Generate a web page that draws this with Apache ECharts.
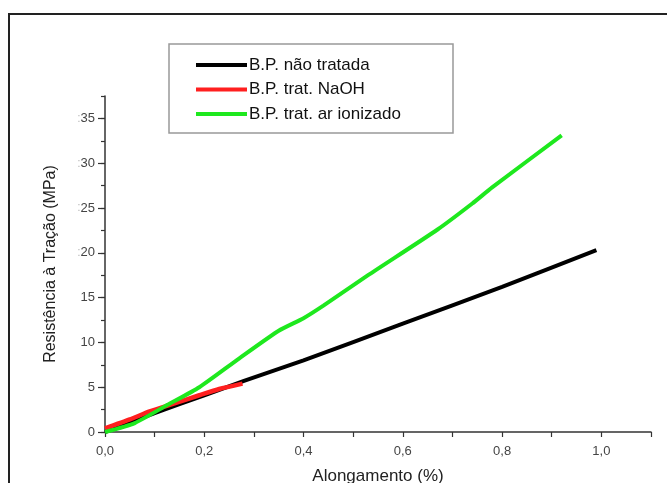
<!DOCTYPE html>
<html>
<head>
<meta charset="utf-8">
<script src="https://cdn.jsdelivr.net/npm/echarts@6/dist/echarts.min.js"></script>
<style>
  html, body { margin: 0; padding: 0; background: #fff; }
  #chart { width: 667px; height: 483px; }
</style>
</head>
<body>
<div id="chart"></div>
<script>
// series names (legend)
var seriesNames = ['B.P. não tratada', 'B.P. trat. NaOH', 'B.P. trat. ar ionizado'];

// [alongamento %, resistência MPa]
var naoTratada = [[0, 0], [0.05, 1.0], [0.1, 2.1], [0.2, 4.1], [0.28, 5.7], [0.4, 8.0], [0.6, 12.1], [0.8, 16.2], [0.99, 20.3]];
var tratNaOH = [[0, 0.4], [0.05, 1.4], [0.09, 2.3], [0.14, 3.2], [0.19, 4.1], [0.23, 4.8], [0.277, 5.4]];
var tratArIonizado = [[0, 0], [0.06, 1.0], [0.125, 3.0], [0.19, 5.0], [0.27, 8.2], [0.35, 11.3], [0.4, 12.7], [0.44, 14.1], [0.53, 17.5], [0.67, 22.6], [0.74, 25.5], [0.78, 27.3], [0.92, 33.1]];

// tick labels
var xLabelValues = [0, 0.2, 0.4, 0.6, 0.8, 1.0];
var yMajorValues = [0, 5, 10, 15, 20, 25, 30, 35];
var yMinorValues = [0, 2.5, 5, 7.5, 10, 12.5, 15, 17.5, 20, 22.5, 25, 27.5, 30, 32.5, 35, 37.5];

var colors = ['#000000', '#ff1f1f', '#1ee81e'];
var font = 'Liberation Sans, Arial, sans-serif';

var myChart = echarts.init(document.getElementById('chart'));

var option = {
  animation: false,
  textStyle: { fontFamily: font },
  grid: { left: 105, right: 16, top: 96, bottom: 51, outerBoundsMode: 'none' },
  graphic: [
    { type: 'rect', shape: { x: 9, y: 14, width: 700, height: 500 }, style: { fill: 'none', stroke: '#222', lineWidth: 2 }, silent: true },
    { type: 'rect', shape: { x: 169, y: 44, width: 284, height: 89 }, style: { fill: '#fff', stroke: '#999', lineWidth: 1.5 }, silent: true, z: -1 }
  ],
  legend: {
    data: seriesNames,
    orient: 'vertical',
    left: 196,
    top: 56,
    padding: 0,
    itemGap: 6.5,
    itemWidth: 51,
    itemHeight: 4,
    icon: 'rect',
    textStyle: { fontFamily: font, fontSize: 17, color: '#111', lineHeight: 18, padding: [0, 0, 0, -3] }
  },
  xAxis: {
    type: 'value',
    min: 0,
    max: 1.1,
    interval: 0.1,
    name: 'Alongamento (%)',
    nameLocation: 'middle',
    nameGap: 36,
    nameTextStyle: { fontFamily: font, fontSize: 17, color: '#222' },
    axisLine: { lineStyle: { color: '#333', width: 1.5 } },
    axisTick: { length: 5, lineStyle: { color: '#333', width: 1.2 } },
    splitLine: { show: false },
    axisLabel: {
      customValues: xLabelValues,
      margin: 13,
      fontSize: 13,
      color: '#444',
      formatter: function (v) { return v.toFixed(1).replace('.', ','); }
    }
  },
  yAxis: [
    {
      type: 'value',
      min: 0,
      max: 37.5,
      position: 'left',
      axisLine: { show: true, lineStyle: { color: '#333', width: 1.5 } },
      axisTick: { customValues: yMinorValues, length: 4, lineStyle: { color: '#333', width: 1.2 } },
      axisLabel: { show: false },
      splitLine: { show: false },
      name: 'Resistência à Tração (MPa)',
      nameLocation: 'middle',
      nameGap: 46,
      nameTextStyle: { fontFamily: font, fontSize: 16, color: '#222' }
    },
    {
      type: 'value',
      min: 0,
      max: 37.5,
      position: 'left',
      axisLine: { show: false },
      axisTick: { show: true, customValues: yMajorValues, length: 7, lineStyle: { color: '#333', width: 1.2 } },
      splitLine: { show: false },
      axisLabel: {
        customValues: yMajorValues,
        margin: 10,
        fontSize: 13,
        color: '#444',
        formatter: function (v) { return v >= 20 ? '{d|:}' + v : '' + v; },
        rich: { d: { color: '#bbb', fontSize: 12 } }
      }
    }
  ],
  series: [
    { name: seriesNames[0], type: 'line', data: naoTratada, showSymbol: false, smooth: 0.2, lineStyle: { color: colors[0], width: 4 }, itemStyle: { color: colors[0] } },
    { name: seriesNames[1], type: 'line', data: tratNaOH, showSymbol: false, smooth: 0.2, lineStyle: { color: colors[1], width: 4.5 }, itemStyle: { color: colors[1] } },
    { name: seriesNames[2], type: 'line', data: tratArIonizado, showSymbol: false, smooth: 0.2, lineStyle: { color: colors[2], width: 4 }, itemStyle: { color: colors[2] } }
  ]
};
myChart.setOption(option);
</script>
</body>
</html>
